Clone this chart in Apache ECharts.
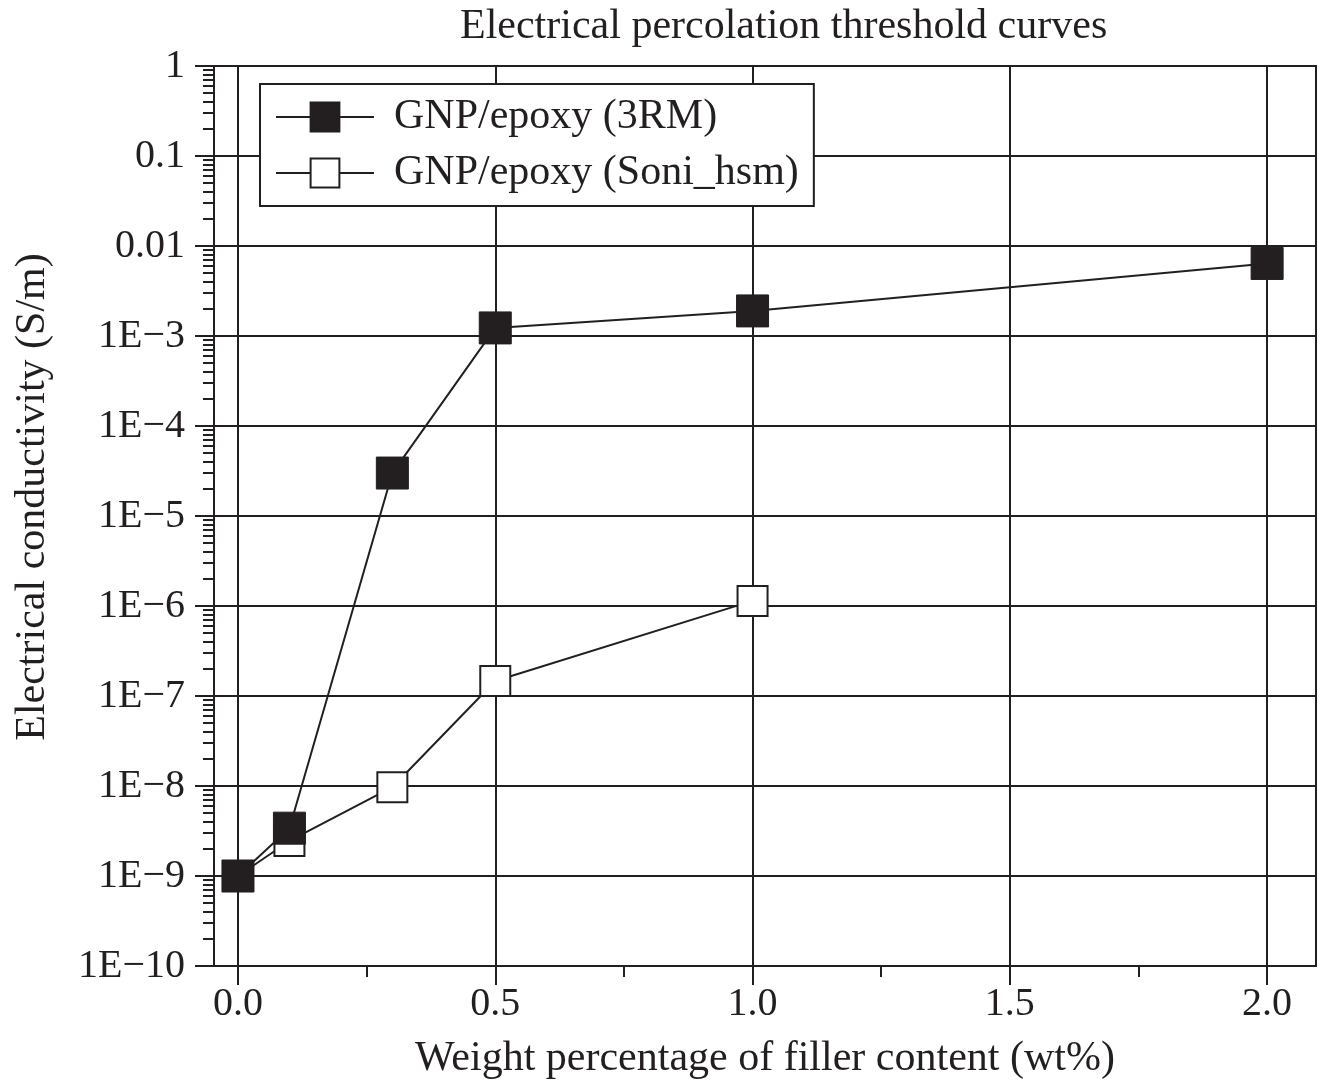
<!DOCTYPE html>
<html>
<head>
<meta charset="utf-8">
<script src="https://cdn.jsdelivr.net/npm/echarts@6/dist/echarts.min.js"></script>
<style>
html, body { margin: 0; padding: 0; background: #fff; }
#chart { width: 1318px; height: 1085px; }
</style>
</head>
<body>
<div id="chart"></div>
<script>
/* data */
const filler_3rm = [0.0, 0.1, 0.3, 0.5, 1.0, 2.0];
const cond_3rm = [1.0e-9, 3.4e-9, 3.0e-5, 1.23e-3, 1.9e-3, 6.4e-3];
const filler_soni = [0.0, 0.1, 0.3, 0.5, 1.0];
const cond_soni = [1.0e-9, 2.45e-9, 9.7e-9, 1.47e-7, 1.14e-6];

const x_ticks = [0.0, 0.5, 1.0, 1.5, 2.0];
const x_tick_labels = ['0.0', '0.5', '1.0', '1.5', '2.0'];
const x_minor_ticks = [0.25, 0.75, 1.25, 1.75];
const y_ticks = [1, 0.1, 0.01, 1e-3, 1e-4, 1e-5, 1e-6, 1e-7, 1e-8, 1e-9, 1e-10];
const y_tick_labels = ['1', '0.1', '0.01', '1E\u22123', '1E\u22124', '1E\u22125', '1E\u22126',
    '1E\u22127', '1E\u22128', '1E\u22129', '1E\u221210'];

// log minor ticks 2..9 in each decade
let y_minor_ticks = [];
for (let e = -10; e < 0; e++) {
    for (let k = 2; k <= 9; k++) {
        y_minor_ticks.push(k * Math.pow(10, e));
    }
}

const ink = '#231f20';
const serif = '"Liberation Serif", "DejaVu Serif", serif';

function yLabel(v) {
    for (let i = 0; i < y_ticks.length; i++) {
        if (Math.abs(Math.log10(v) - Math.log10(y_ticks[i])) < 1e-6) return y_tick_labels[i];
    }
    return '';
}
function xLabel(v) {
    for (let i = 0; i < x_ticks.length; i++) {
        if (Math.abs(v - x_ticks[i]) < 1e-6) return x_tick_labels[i];
    }
    return '';
}

var myChart = echarts.init(document.getElementById('chart'));
var option = {
    animation: false,
    title: {
        text: 'Electrical percolation threshold curves',
        left: 455,
        top: 1,
        textStyle: { fontFamily: serif, fontSize: 42, fontWeight: 'normal', color: ink }
    },
    legend: {
        orient: 'vertical',
        left: 260,
        top: 84,
        data: ['GNP/epoxy (3RM)', 'GNP/epoxy (Soni_hsm)'],
        itemWidth: 98,
        itemHeight: 36,
        itemGap: 14,
        padding: [12, 15, 12, 15],
        backgroundColor: '#fff',
        borderColor: ink,
        borderWidth: 2,
        textStyle: { fontFamily: serif, fontSize: 42, color: ink, padding: [0, 0, 0, 15] }
    },
    grid: {
        left: 214,
        right: 2,
        top: 66,
        bottom: 119,
        show: true,
        borderColor: ink,
        borderWidth: 2
    },
    xAxis: [{
        type: 'value',
        min: -0.0466,
        max: 2.095,
        name: 'Weight percentage of filler content (wt%)',
        nameLocation: 'middle',
        nameGap: 72,
        nameTextStyle: { fontFamily: serif, fontSize: 42, color: ink },
        axisLine: { onZero: false, lineStyle: { color: ink, width: 2 } },
        axisTick: { customValues: x_ticks, length: 19, lineStyle: { color: ink, width: 2 } },
        axisLabel: { customValues: x_ticks, formatter: xLabel, margin: 18,
            fontFamily: serif, fontSize: 40, color: ink },
        splitLine: { show: true, lineStyle: { color: ink, width: 2 } }
    }, {
        type: 'value',
        min: -0.0466,
        max: 2.095,
        position: 'bottom',
        axisLine: { show: false, onZero: false },
        axisTick: { customValues: x_minor_ticks, length: 11, lineStyle: { color: ink, width: 2 } },
        axisLabel: { show: false },
        splitLine: { show: false }
    }],
    yAxis: [{
        type: 'log',
        logBase: 10,
        min: 1e-10,
        max: 1,
        name: 'Electrical conductivity (S/m)',
        nameLocation: 'middle',
        nameGap: 160,
        nameTextStyle: { fontFamily: serif, fontSize: 42, color: ink, padding: [0, 0, 0, 38] },
        axisLine: { show: true, onZero: false, lineStyle: { color: ink, width: 2 } },
        axisTick: { customValues: y_ticks, length: 19, lineStyle: { color: ink, width: 2 } },
        axisLabel: { customValues: y_ticks, formatter: yLabel, margin: 29,
            fontFamily: serif, fontSize: 40, color: ink },
        splitLine: { show: true, lineStyle: { color: ink, width: 2 } }
    }, {
        type: 'log',
        logBase: 10,
        min: 1e-10,
        max: 1,
        position: 'left',
        axisLine: { show: false, onZero: false },
        axisTick: { customValues: y_minor_ticks, length: 11, lineStyle: { color: ink, width: 2 } },
        axisLabel: { show: false },
        splitLine: { show: false }
    }],
    series: [
        {
            name: 'GNP/epoxy (Soni_hsm)',
            type: 'line',
            symbol: 'rect',
            symbolSize: 30,
            z: 3,
            lineStyle: { color: ink, width: 2 },
            itemStyle: { color: '#fff', borderColor: ink, borderWidth: 2 },
            data: filler_soni.map((x, i) => [x, cond_soni[i]])
        },
        {
            name: 'GNP/epoxy (3RM)',
            type: 'line',
            symbol: 'rect',
            symbolSize: 32,
            z: 4,
            lineStyle: { color: ink, width: 2 },
            itemStyle: { color: ink, borderColor: ink, borderWidth: 1 },
            data: filler_3rm.map((x, i) => [x, cond_3rm[i]])
        }
    ]
};
myChart.setOption(option);
</script>
</body>
</html>
